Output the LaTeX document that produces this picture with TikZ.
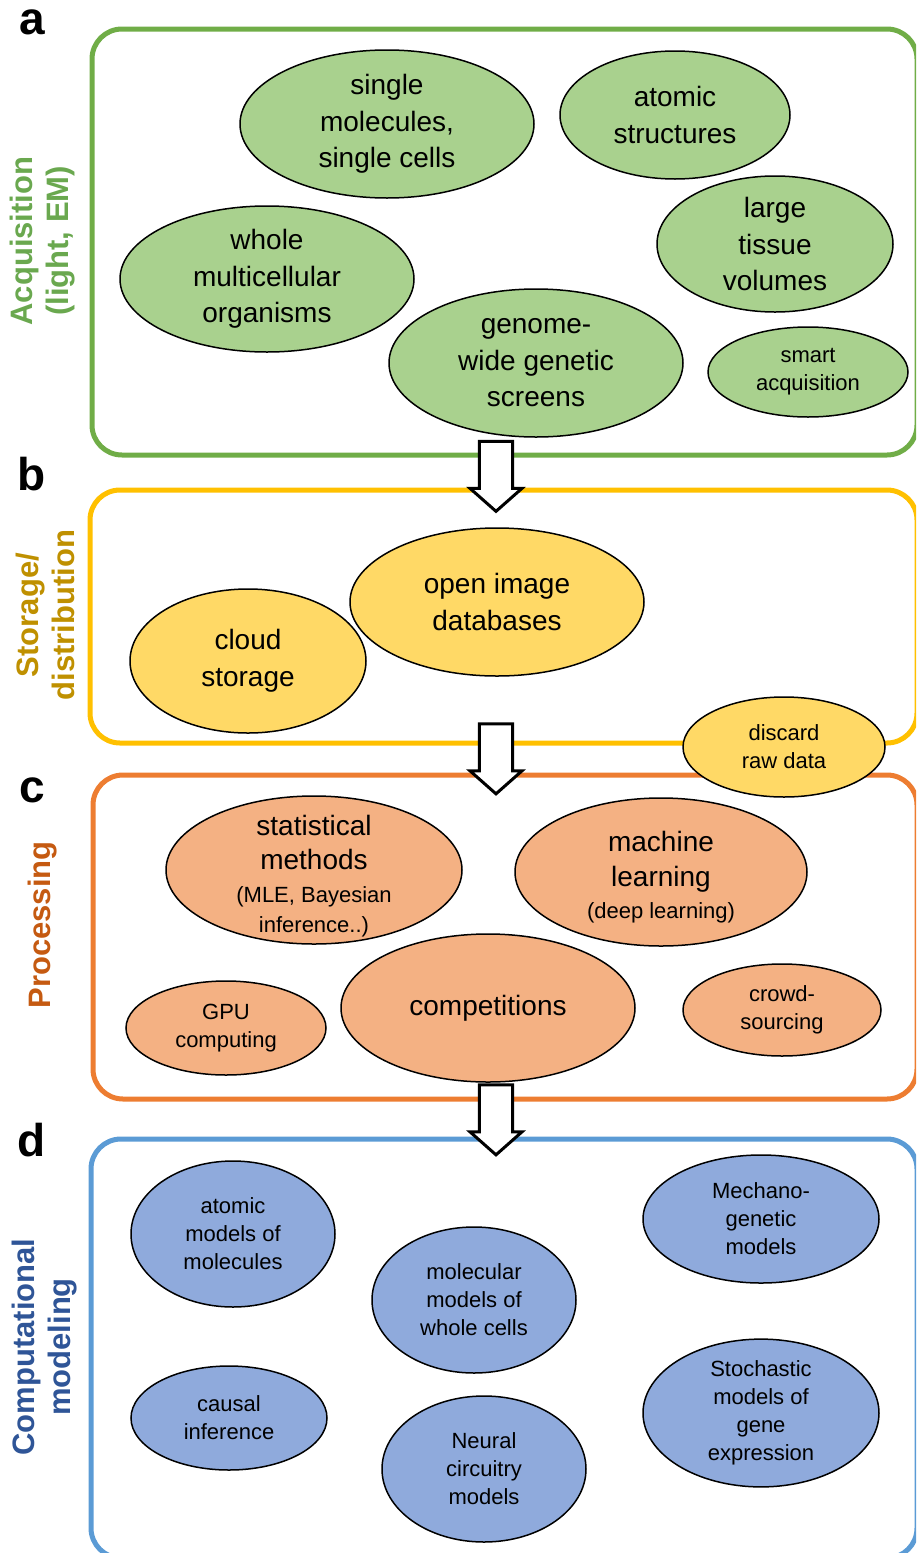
\documentclass[tikz,border=0pt]{standalone}
\usepackage{fontspec}
\setmainfont{Liberation Sans}
\usetikzlibrary{shapes.geometric,shapes.arrows}
\definecolor{acqline}{HTML}{70AD47}
\definecolor{acqfill}{HTML}{A9D18E}
\definecolor{acqtext}{HTML}{6AA84F}
\definecolor{storline}{HTML}{FFC000}
\definecolor{storfill}{HTML}{FFD966}
\definecolor{stortext}{HTML}{BF9000}
\definecolor{procline}{HTML}{ED7D31}
\definecolor{procfill}{HTML}{F4B183}
\definecolor{proctext}{HTML}{C55A11}
\definecolor{modline}{HTML}{5B9BD5}
\definecolor{modfill}{HTML}{8FAADC}
\definecolor{modtext}{HTML}{2F5597}
\newcommand{\subtxt}{\fontsize{22}{28}\selectfont}
\tikzset{every picture/.style={line width=1.5pt}}
\tikzset{
  blob/.style={ellipse, draw=black, line width=1.5pt, inner sep=0pt, align=center, font=\fontsize{28}{36.5}\selectfont},
  smallblob/.style={blob, font=\subtxt},
  blobtext/.style={align=center, inner sep=0pt, font=\fontsize{28}{36.5}\selectfont},
  panel/.style={draw=#1, line width=5pt, rounded corners=30pt, inner sep=0pt},
  flowarrow/.style={single arrow, draw=black, fill=white, line width=3pt, inner xsep=0pt, inner ysep=11pt,
    minimum height=70pt, minimum width=52pt, single arrow tip angle=97, single arrow head indent=0pt, rotate=-90},
  sidelabel/.style={rotate=90, font=\bfseries\fontsize{31}{36}\selectfont, align=center, inner sep=0pt},
  letter/.style={font=\bfseries\fontsize{46}{46}\selectfont, inner sep=0pt}
}

\begin{document}
\begin{tikzpicture}[x=1pt, y=-1pt]
    \clip (0,0) rectangle (916,1553);
    \node[panel=acqline, minimum width=825pt, minimum height=426pt] (acq) at (504.5, 242){};
    \node[panel=storline, minimum width=827pt, minimum height=253pt] (stor) at (503.5, 616.5){};
    \node[panel=procline, minimum width=824pt, minimum height=324pt] (proc) at (505, 937){};
    \node[panel=modline, minimum width=826pt, minimum height=419pt] (mod) at (504, 1348.5){};
    \node[letter] (la) at (32, 22){a};
    \node[letter] (lb) at (32, 474){b};
    \node[letter] (lc) at (32, 790){c};
    \node[letter] (ld) at (32, 1140){d};
    \node[sidelabel, text=acqtext] (sa) at (43, 241){Acquisition\\(light, EM)};
    \node[sidelabel, text=stortext] (sb) at (45, 615){Storage/\\distribution};
    \node[sidelabel, text=proctext] (sc) at (43, 925){Processing};
    \node[sidelabel, text=modtext] (sd) at (45, 1347){Computational\\modeling};
    \node[blob, fill=acqfill, minimum width=294pt, minimum height=148pt] (single) at (387, 124){single\\molecules,\\single cells};
    \node[blob, fill=acqfill, minimum width=230pt, minimum height=128pt] (atomic) at (675, 115){atomic\\structures};
    \node[blob, fill=acqfill, minimum width=294pt, minimum height=146pt] (whole) at (267, 279){whole\\multicellular\\organisms};
    \node[blob, fill=acqfill, minimum width=236pt, minimum height=136pt] (tissue) at (775, 244){large\\tissue\\volumes};
    \node[blob, fill=acqfill, minimum width=294pt, minimum height=148pt] (genome) at (536, 363){genome-\\wide genetic\\screens};
    \node[smallblob, fill=acqfill, minimum width=200pt, minimum height=90pt] (smart) at (808, 372){smart\\acquisition};
    \node[blob, fill=storfill, minimum width=294pt, minimum height=148pt] (opendb) at (497, 602){open image\\databases};
    \node[blob, fill=storfill, minimum width=236pt, minimum height=144pt] (cloud) at (248, 661){cloud\\storage};
    \node[blob, fill=procfill, minimum width=296pt, minimum height=148pt,
      label={[blobtext, yshift=-6pt]center:statistical\\[-2pt]methods\\[-4pt]{\subtxt (MLE, Bayesian}\\[-6pt]{\subtxt inference..)}}] (stats) at (314, 870){};
    \node[blob, fill=procfill, minimum width=292pt, minimum height=148pt,
      label={[blobtext, yshift=-5pt]center:machine\\[-1pt]learning\\[-5pt]{\subtxt (deep learning)}}] (ml) at (661, 872){};
    \node[blob, fill=procfill, minimum width=294pt, minimum height=148pt] (comp) at (488, 1008){competitions};
    \node[smallblob, fill=procfill, minimum width=200pt, minimum height=94pt] (gpu) at (226, 1028){GPU\\computing};
    \node[smallblob, fill=procfill, minimum width=198pt, minimum height=92pt] (crowd) at (782, 1010){crowd-\\sourcing};
    \node[smallblob, fill=storfill, minimum width=202pt, minimum height=100pt] (discard) at (784, 747){discard\\raw data};
    \node[smallblob, fill=modfill, minimum width=204pt, minimum height=146pt] (atommod) at (233, 1234){atomic\\models of\\molecules};
    \node[smallblob, fill=modfill, minimum width=204pt, minimum height=146pt] (cellmod) at (474, 1300){molecular\\models of\\whole cells};
    \node[smallblob, fill=modfill, minimum width=236pt, minimum height=128pt] (mechano) at (761, 1219){Mechano-\\genetic\\models};
    \node[smallblob, fill=modfill, minimum width=196pt, minimum height=104pt] (causal) at (229, 1418){causal\\inference};
    \node[smallblob, fill=modfill, minimum width=204pt, minimum height=146pt] (neural) at (484, 1469){Neural\\circuitry\\models};
    \node[smallblob, fill=modfill, minimum width=236pt, minimum height=140pt] (stoch) at (761, 1413){Stochastic\\models of\\gene\\expression};
    \node[flowarrow] (ab) at (496, 469){};
    \node[flowarrow] (bc) at (496, 751.5){};
    \node[flowarrow] (cd) at (496, 1112.5){};
\end{tikzpicture}
\end{document}
